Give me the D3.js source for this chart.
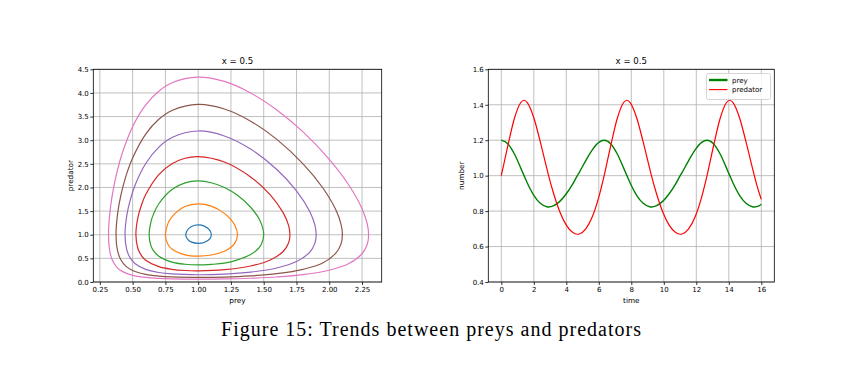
<!DOCTYPE html>
<html>
<head>
<meta charset="utf-8">
<script src="https://cdn.jsdelivr.net/npm/d3@7"></script>
<style>
  body { margin: 0; background: #fff; }
  text { font-family: "DejaVu Sans", sans-serif; }
  text.caption { font-family: "Liberation Serif", "DejaVu Serif", serif; }
</style>
</head>
<body>
<div id="chart"></div>
<script>
// phase portrait: closed orbits, [prey, predator]
const orbitBlue = [[1.1,1],[1.09,1.088],[1.05,1.177],[1,1.207],[0.95,1.175],[0.92,1.105],[0.905,1],[0.92,0.902],[0.95,0.843],[1,0.818],[1.05,0.842],[1.09,0.917]];
const orbitOrange = [[1.3,1],[1.28,1.202],[1.25,1.321],[1.2,1.452],[1.1,1.604],[1,1.653],[0.9,1.597],[0.8,1.38],[0.77,1.24],[0.75,1],[0.77,0.794],[0.8,0.697],[0.9,0.574],[1,0.547],[1.1,0.571],[1.2,0.652],[1.25,0.735],[1.28,0.823]];
const orbitGreen = [[1.5,1],[1.48,1.245],[1.45,1.403],[1.4,1.582],[1.3,1.834],[1.2,2.0],[1.1,2.1],[1.0,2.138],[0.9,2.097],[0.8,1.956],[0.7,1.655],[0.66,1.441],[0.64,1.279],[0.626,1],[0.64,0.765],[0.66,0.659],[0.7,0.546],[0.8,0.421],[0.9,0.375],[1.0,0.361],[1.1,0.373],[1.2,0.399],[1.3,0.468],[1.4,0.581],[1.45,0.683],[1.48,0.79]];
const orbitRed = [[1.7,1],[1.69,1.194],[1.65,1.457],[1.55,1.842],[1.4,2.222],[1.2,2.538],[1.0,2.652],[0.9,2.618],[0.8,2.502],[0.7,2.271],[0.6,1.85],[0.57,1.65],[0.54,1.361],[0.525,1],[0.54,0.709],[0.57,0.548],[0.6,0.461],[0.7,0.324],[0.8,0.268],[0.9,0.2435],[1.0,0.237],[1.2,0.26],[1.4,0.338],[1.55,0.466],[1.65,0.65],[1.69,0.83]];
const orbitPurple = [[1.9,1],[1.89,1.207],[1.85,1.496],[1.75,1.927],[1.6,2.379],[1.4,2.812],[1.2,3.09],[1.0,3.195],[0.8,3.058],[0.7,2.854],[0.6,2.506],[0.52,2.059],[0.48,1.717],[0.455,1.396],[0.442,1],[0.455,0.686],[0.48,0.517],[0.52,0.387],[0.6,0.266],[0.7,0.2005],[0.8,0.17],[1.0,0.153],[1.2,0.166],[1.4,0.208],[1.6,0.2965],[1.75,0.432],[1.85,0.628],[1.89,0.818]];
const orbitBrown = [[2.1,1],[2.09,1.22],[2.05,1.527],[1.95,1.994],[1.8,2.5],[1.6,3.017],[1.4,3.403],[1.2,3.659],[1.0,3.756],[0.8,3.629],[0.7,3.442],[0.6,3.13],[0.5,2.625],[0.45,2.25],[0.41,1.831],[0.385,1.436],[0.3735,1],[0.385,0.662],[0.41,0.469],[0.45,0.33],[0.5,0.2423],[0.6,0.1607],[0.7,0.125],[0.8,0.107],[1.0,0.0967],[1.2,0.1047],[1.4,0.129],[1.6,0.1762],[1.8,0.268],[1.95,0.401],[2.05,0.611],[2.09,0.807]];
const orbitPink = [[2.3,1],[2.29,1.227],[2.25,1.551],[2.15,2.047],[2.0,2.594],[1.8,3.175],[1.6,3.64],[1.4,4.0],[1.2,4.243],[1.0,4.335],[0.8,4.214],[0.7,4.037],[0.6,3.746],[0.5,3.286],[0.42,2.718],[0.38,2.32],[0.345,1.843],[0.325,1.43],[0.316,1],[0.325,0.664],[0.345,0.463],[0.38,0.311],[0.42,0.2247],[0.5,0.1414],[0.6,0.0975],[0.7,0.077],[0.8,0.0666],[1.0,0.0603],[1.2,0.065],[1.4,0.0795],[1.6,0.1063],[1.8,0.155],[2.0,0.2485],[2.15,0.3905],[2.25,0.598],[2.29,0.799]];

const orbits = [orbitBlue, orbitOrange, orbitGreen, orbitRed, orbitPurple, orbitBrown, orbitPink];
const orbitColors = ["#1f77b4", "#ff7f0e", "#2ca02c", "#d62728", "#9467bd", "#8c564b", "#e377c2"];

// time series
const times = [0, 0.4, 0.8, 1.2, 1.4, 1.6, 2.0, 2.4, 2.8, 2.91, 3.2, 3.6, 4.0, 4.4, 4.68, 4.8, 5.2, 5.6, 6.0,
  6.33, 6.73, 7.13, 7.53, 7.73, 7.93, 8.33, 8.73, 9.13, 9.24, 9.53, 9.93, 10.33, 10.73, 11.01, 11.13, 11.53, 11.93, 12.33,
  12.66, 13.06, 13.46, 13.86, 14.06, 14.26, 14.66, 15.06, 15.46, 15.57, 15.86, 16.0];
const prey = [1.2, 1.1802, 1.1233, 1.0424, 1.0, 0.9584, 0.889, 0.8438, 0.8245, 0.8235, 0.8293, 0.8549, 0.8977, 0.9538, 1.0, 1.0185, 1.0853, 1.1455, 1.1876,
  1.2, 1.1802, 1.1233, 1.0424, 1.0, 0.9584, 0.889, 0.8438, 0.8245, 0.8235, 0.8293, 0.8549, 0.8977, 0.9538, 1.0, 1.0185, 1.0853, 1.1455, 1.1876,
  1.2, 1.1802, 1.1233, 1.0424, 1.0, 0.9584, 0.889, 0.8438, 0.8245, 0.8235, 0.8293, 0.8383];
const predator = [1.0, 1.1673, 1.3208, 1.4127, 1.4255, 1.4125, 1.327, 1.1904, 1.0408, 1.0, 0.9049, 0.7965, 0.7208, 0.6787, 0.6694, 0.671, 0.6995, 0.7678, 0.8786,
  1.0, 1.1673, 1.3208, 1.4127, 1.4255, 1.4125, 1.327, 1.1904, 1.0408, 1.0, 0.9049, 0.7965, 0.7208, 0.6787, 0.6694, 0.671, 0.6995, 0.7678, 0.8786,
  1.0, 1.1673, 1.3208, 1.4127, 1.4255, 1.4125, 1.327, 1.1904, 1.0408, 1.0, 0.9049, 0.867];

const phaseXTicks = [0.25, 0.5, 0.75, 1.0, 1.25, 1.5, 1.75, 2.0, 2.25];
const phaseYTicks = [0, 0.5, 1.0, 1.5, 2.0, 2.5, 3.0, 3.5, 4.0, 4.5];
const timeXTicks = [0, 2, 4, 6, 8, 10, 12, 14, 16];
const timeYTicks = [0.4, 0.6, 0.8, 1.0, 1.2, 1.4, 1.6];
const legendLabels = ["prey", "predator"];

const svg = d3.select("#chart").append("svg")
  .attr("width", 868)
  .attr("height", 387);
svg.append("rect").attr("width", 868).attr("height", 387).attr("fill", "#fff");

function panel(box, xDomain, yDomain, xTicks, yTicks, xFmt, yFmt, xLabel, yLabel, yLabelX) {
  const x = d3.scaleLinear().domain(xDomain).range([box.left, box.right]);
  const y = d3.scaleLinear().domain(yDomain).range([box.bottom, box.top]);
  const g = svg.append("g");

  // grid
  g.selectAll(".gx").data(xTicks).enter().append("line")
    .attr("x1", d => x(d)).attr("x2", d => x(d))
    .attr("y1", box.top).attr("y2", box.bottom)
    .attr("stroke", "#b0b0b0").attr("stroke-width", 0.8);
  g.selectAll(".gy").data(yTicks).enter().append("line")
    .attr("x1", box.left).attr("x2", box.right)
    .attr("y1", d => y(d)).attr("y2", d => y(d))
    .attr("stroke", "#b0b0b0").attr("stroke-width", 0.8);

  const xa = g.append("g").attr("transform", "translate(0," + box.bottom + ")")
    .call(d3.axisBottom(x).tickValues(xTicks).tickFormat(xFmt).tickSize(3).tickPadding(2).tickSizeOuter(0));
  const ya = g.append("g").attr("transform", "translate(" + box.left + ",0)")
    .call(d3.axisLeft(y).tickValues(yTicks).tickFormat(yFmt).tickSize(3).tickPadding(1.5).tickSizeOuter(0));
  [xa, ya].forEach(a => {
    a.select(".domain").remove();
    a.selectAll("line").attr("stroke", "#000").attr("stroke-width", 0.8);
    a.selectAll("text").attr("font-size", 7).attr("fill", "#000");
  });

  g.append("text").attr("x", (box.left + box.right) / 2).attr("y", box.bottom + 20.5)
    .attr("text-anchor", "middle").attr("font-size", 7.3).text(xLabel);
  g.append("text").attr("transform", "translate(" + yLabelX + "," + (box.top + box.bottom) / 2 + ") rotate(-90)")
    .attr("text-anchor", "middle").attr("font-size", 7.3).text(yLabel);
  g.append("text").attr("x", (box.left + box.right) / 2).attr("y", box.top - 5)
    .attr("text-anchor", "middle").attr("font-size", 8.6).text("x = 0.5");

  const plot = g.append("g");
  const frame = () => g.append("rect")
    .attr("x", box.left).attr("y", box.top)
    .attr("width", box.right - box.left).attr("height", box.bottom - box.top)
    .attr("fill", "none").attr("stroke", "#000").attr("stroke-width", 0.8);
  return { x, y, plot, frame };
}

// left: phase portrait
const left = panel({ left: 93.3, right: 381.7, top: 69.3, bottom: 282 },
  [0.2, 2.4], [0, 4.5], phaseXTicks, phaseYTicks, d3.format(".2f"), d3.format(".1f"), "prey", "predator", 72.5);
const orbitLine = d3.line()
  .x(d => left.x(d[0])).y(d => left.y(d[1]))
  .curve(d3.curveCatmullRomClosed.alpha(0.5));
left.plot.selectAll("path").data(orbits).enter().append("path")
  .attr("d", orbitLine)
  .attr("fill", "none")
  .attr("stroke", (d, i) => orbitColors[i])
  .attr("stroke-width", 1.2);
left.frame();

// right: time series
const right = panel({ left: 488.3, right: 774.3, top: 69.3, bottom: 282 },
  [-0.8, 16.8], [0.4, 1.6], timeXTicks, timeYTicks, d3.format("d"), d3.format(".1f"), "time", "number", 464);
const tsLine = vals => d3.line()
  .x((d, i) => right.x(times[i])).y(d => right.y(d))
  .curve(d3.curveMonotoneX)(vals);
right.plot.append("path").attr("d", tsLine(prey))
  .attr("fill", "none").attr("stroke", "green").attr("stroke-width", 1.4);
right.plot.append("path").attr("d", tsLine(predator))
  .attr("fill", "none").attr("stroke", "red").attr("stroke-width", 1.2);
right.frame();

// legend
const lg = svg.append("g").attr("transform", "translate(706.5,73.5)");
lg.append("rect").attr("width", 64).attr("height", 26).attr("rx", 2)
  .attr("fill", "#fff").attr("fill-opacity", 0.8)
  .attr("stroke", "#cccccc").attr("stroke-width", 0.8);
const legendColors = ["green", "red"];
const legendWidths = [2.4, 1.1];
legendLabels.forEach((name, i) => {
  const cy = 6.5 + i * 9.6;
  lg.append("line").attr("x1", 2.5).attr("x2", 21).attr("y1", cy).attr("y2", cy)
    .attr("stroke", legendColors[i]).attr("stroke-width", legendWidths[i]);
  lg.append("text").attr("x", 25.5).attr("y", cy + 2.5).attr("font-size", 7).text(name);
});

// caption
svg.append("text")
  .attr("class", "caption")
  .attr("x", 221).attr("y", 336)
  .attr("font-size", 20)
  .attr("textLength", 420).attr("lengthAdjust", "spacing")
  .attr("fill", "#000")
  .text("Figure 15: Trends between preys and predators");
</script>
</body>
</html>
